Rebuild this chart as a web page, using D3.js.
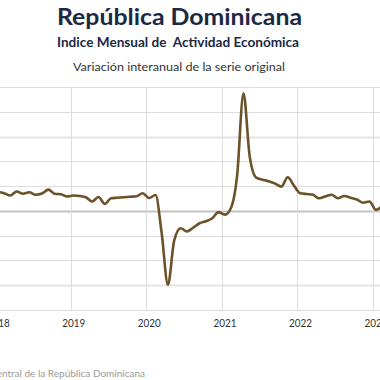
<!DOCTYPE html>
<html>
<head>
<meta charset="utf-8">
<script src="https://cdn.jsdelivr.net/npm/d3@7"></script>
<style>
  html, body { margin: 0; padding: 0; background: #fff; }
  svg { display: block; }
  text { font-family: Lato, "Open Sans", sans-serif; }
</style>
</head>
<body>
<svg id="chart" width="380" height="380"></svg>
<script>
// ---- data ----
const title = "República Dominicana";
const subtitle = "Indice Mensual de  Actividad Económica";
const subtitle2 = "Variación interanual de la serie original";
const source = "Fuente: Banco Central de la República Dominicana";

const startMonth = "2017-12"; // first month of the series
const values = [
  7.0,                                                   // Dec 2017
  7.6, 7.0, 6.2, 7.8, 6.9, 7.5, 6.5, 7.0, 8.6, 6.9, 6.7, 5.8,      // 2018
  6.2, 6.0, 5.5, 3.8, 5.6, 2.8, 5.1, 5.3, 5.5, 5.7, 5.9, 7.1,      // 2019
  5.2, 6.4, -8.5, -29.8, -12.0, -7.0, -8.3, -6.8, -5.0, -4.2, -3.0, -0.5, // 2020
  -1.5, 1.5, 14.0, 47.5, 22.0, 13.5, 12.6, 12.0, 11.0, 9.8, 13.6, 10.2,    // 2021
  7.1, 6.8, 6.6, 5.1, 5.8, 6.5, 5.1, 6.0, 5.3, 4.6, 3.3, 3.8,      // 2022
  0.4, 2.0                                                         // 2023
];
const yearTicks = [2018, 2019, 2020, 2021, 2022, 2023];
const yTicks = [-40, -30, -20, -10, 0, 10, 20, 30, 40, 50];

// ---- build series ----
const [sy, sm] = startMonth.split("-").map(Number);
const series = values.map((v, i) => ({ date: new Date(sy, sm - 1 + i, 15), value: v }));

const svg = d3.select("#chart");

const x = d3.scaleTime()
  .domain([new Date(2018, 0, 1), new Date(2023, 0, 1)])
  .range([-4.8, 373]);
const y = d3.scaleLinear().domain([-40, 50]).range([310, 87]);

// horizontal grid
svg.append("g").selectAll("line").data(yTicks).join("line")
  .attr("x1", -10).attr("x2", 390)
  .attr("y1", d => Math.round(y(d)) + 0.5).attr("y2", d => Math.round(y(d)) + 0.5)
  .attr("stroke", d => d === 0 ? "#c4c4c4" : (Math.abs(d) === 30 ? "#e4e4e4" : "#dcdcdc"))
  .attr("stroke-width", d => d === 0 ? 2 : (Math.abs(d) === 30 ? 2 : 1));

// vertical grid
const yearDates = yearTicks.map(yr => new Date(yr, 0, 1));
svg.append("g").selectAll("line").data(yearDates).join("line")
  .attr("x1", d => Math.round(x(d)) + 0.5).attr("x2", d => Math.round(x(d)) + 0.5)
  .attr("y1", y(50)).attr("y2", y(-40))
  .attr("stroke", "#dcdcdc").attr("stroke-width", 1);

// x labels
svg.append("g").selectAll("text").data(yearDates).join("text")
  .attr("x", d => x(d) + 3).attr("y", 327)
  .attr("text-anchor", "middle")
  .attr("font-size", 11.5).attr("fill", "#333")
  .attr("textLength", 23).attr("lengthAdjust", "spacingAndGlyphs")
  .text(d => d.getFullYear());

// line
const line = d3.line()
  .x(d => x(d.date)).y(d => y(d.value))
  .curve(d3.curveMonotoneX);
svg.append("path").datum(series)
  .attr("d", line)
  .attr("fill", "none")
  .attr("stroke", "#6b5228")
  .attr("stroke-width", 2.6)
  .attr("stroke-linejoin", "round");

// titles
svg.append("text").attr("x", 57).attr("y", 25)
  .attr("font-size", 22).attr("font-weight", "bold")
  .attr("textLength", 245).attr("lengthAdjust", "spacingAndGlyphs")
  .attr("fill", "#1c2945").text(title);
svg.append("text").attr("x", 57).attr("y", 47)
  .attr("font-size", 12.5).attr("font-weight", "bold")
  .attr("textLength", 242).attr("lengthAdjust", "spacingAndGlyphs")
  .attr("fill", "#1c2945").style("white-space", "pre").text(subtitle);
svg.append("text").attr("x", 73).attr("y", 71)
  .attr("font-size", 12)
  .attr("textLength", 212).attr("lengthAdjust", "spacingAndGlyphs")
  .attr("fill", "#333").text(subtitle2);

// source
svg.append("text").attr("x", 145).attr("y", 377)
  .attr("text-anchor", "end").attr("font-size", 10)
  .attr("fill", "#9a9a9a").text(source);
</script>
</body>
</html>
